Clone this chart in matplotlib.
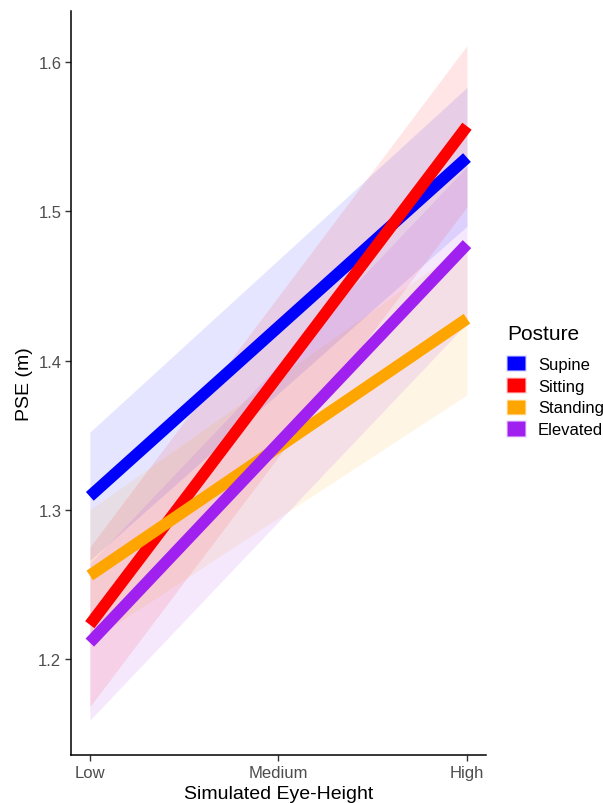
import matplotlib.pyplot as plt
from matplotlib.colors import to_rgb
from matplotlib.patches import Patch

plt.rcParams['font.family'] = ['Liberation Sans', 'DejaVu Sans']

levels = ['Low', 'Medium', 'High']
postures = ['Supine', 'Sitting', 'Standing', 'Elevated']
colors = ['#0000FF', '#FF0000', '#FFA500', '#A020F0']

# PSE at Low and High (straight fitted lines)
pse_low = [1.309, 1.223, 1.256, 1.211]
pse_high = [1.536, 1.557, 1.428, 1.478]
# confidence band limits at Low and High
ci_low_lo = [1.266, 1.168, 1.212, 1.159]
ci_low_hi = [1.352, 1.275, 1.300, 1.264]
ci_high_lo = [1.490, 1.503, 1.377, 1.425]
ci_high_hi = [1.583, 1.611, 1.478, 1.530]

fig = plt.figure(figsize=(6.03, 8.04), dpi=100)
ax = fig.add_axes([0.1177, 0.0597, 0.688, 0.925])

xs = [1, 3]
for i, p in enumerate(postures):
    ax.fill_between(xs, [ci_low_lo[i], ci_high_lo[i]], [ci_low_hi[i], ci_high_hi[i]],
                    color=colors[i], alpha=0.1, linewidth=0)
for i, p in enumerate(postures):
    ax.plot(xs, [pse_low[i], pse_high[i]], color=colors[i], lw=8.4,
            solid_capstyle='butt')

ax.set_xlim(0.9, 3.1)
ax.set_ylim(1.1357, 1.634)
ax.set_xticks([1, 2, 3])
ax.set_xticklabels(levels)
ax.set_yticks([1.2, 1.3, 1.4, 1.5, 1.6])
ax.set_yticklabels(['1.2', '1.3', '1.4', '1.5', '1.6'])
ax.tick_params(labelsize=12, colors='#333333', labelcolor='#4D4D4D', width=1, length=4,
               pad=3)
for s in ['top', 'right']:
    ax.spines[s].set_visible(False)
for s in ['left', 'bottom']:
    ax.spines[s].set_linewidth(1.1)
ax.set_xlabel('Simulated Eye-Height', fontsize=14, labelpad=4)
ax.set_ylabel('PSE (m)', fontsize=14, labelpad=4)

# legend: title as separate text, keys below
fig.text(507 / 603, 1 - 335 / 804, 'Posture', fontsize=15, ha='left', va='center')
handles = [Patch(facecolor=c, edgecolor=(*to_rgb(c), 0.12),
                 linewidth=2, label=p) for p, c in zip(postures, colors)]
fig.legend(handles=handles, loc='upper left',
           bbox_to_anchor=(507 / 603, 1 - 357 / 804), frameon=False, fontsize=12,
           handlelength=1.1, handleheight=0.95,
           handletextpad=0.75, labelspacing=0.35,
           borderaxespad=0, borderpad=0)

fig.savefig('out.png', dpi=100)
